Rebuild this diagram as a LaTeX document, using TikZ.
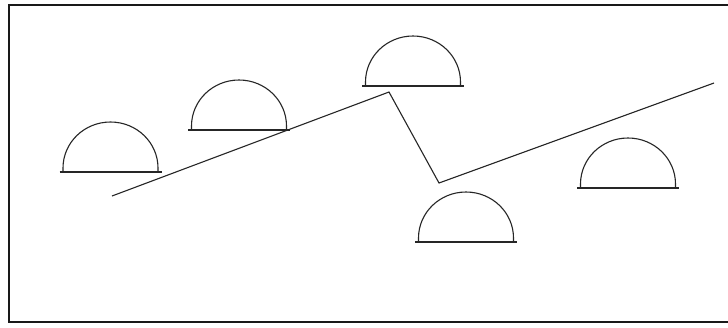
\documentclass[tikz,border=0pt]{standalone}
\begin{document}
\begin{tikzpicture}[x=1pt,y=-1pt,
  frame/.style={line width=1.8pt,black!90},
  domeline/.style={line width=1.1pt,black!85},
  ridge/.style={line width=1.1pt,black!85,line join=miter}]
\useasboundingbox (0,0) rectangle (728,327);
\fill[white] (0,0) rectangle (728,327);
% frame (open on the right)
\draw[frame] (728,5) -- (9,5) -- (9,322) -- (728,322);
% domes: centre x, base y
\foreach \cx/\by in {110.5/172, 239/130, 413/86, 466/242, 628/188}{
  \draw[domeline] (\cx-51,\by) -- (\cx+51,\by);
  \draw[domeline] (\cx-47.5,\by) -- ++(0,-4) arc[start angle=180,end angle=0,x radius=47.5,y radius=-46] -- ++(0,4);
}
% polyline
\coordinate (p1) at (112,196);
\coordinate (p2) at (389,92);
\coordinate (p3) at (439,183);
\coordinate (p4) at (714,83);
\draw[ridge] (p1) -- (p2) -- (p3) -- (p4);
\end{tikzpicture}
\end{document}
